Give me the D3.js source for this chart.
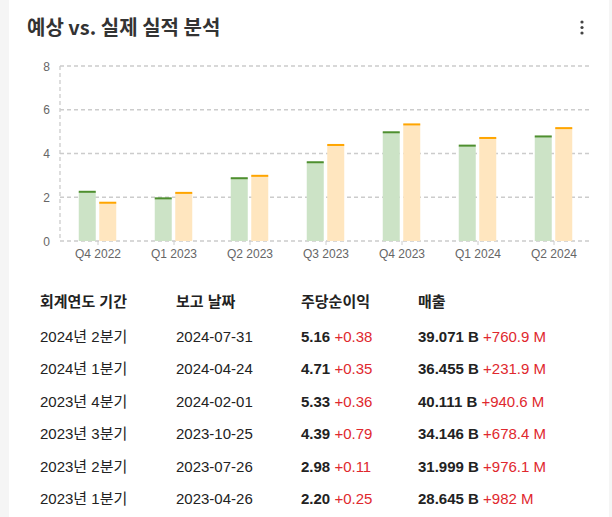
<!DOCTYPE html>
<html><head><meta charset="utf-8">
<script src="https://cdn.jsdelivr.net/npm/d3@7"></script>
<style>
html,body{margin:0;padding:0;background:#f5f5f5;}
svg{display:block;}
</style></head>
<body>
<svg id="c" width="612" height="517"></svg>
<script>
const title = "예상 vs. 실제 실적 분석";
const categories = ["Q4 2022","Q1 2023","Q2 2023","Q3 2023","Q4 2023","Q1 2024","Q2 2024"];
const estimates = [2.25, 1.95, 2.87, 3.60, 4.97, 4.36, 4.78];
const actuals   = [1.75, 2.20, 2.98, 4.39, 5.33, 4.71, 5.16];
const yTicks = [0, 2, 4, 6, 8];

const headers = ["회계연도 기간", "보고 날짜", "주당순이익", "매출"];
const periods = ["2024년 2분기","2024년 1분기","2023년 4분기","2023년 3분기","2023년 2분기","2023년 1분기"];
const reportDates = ["2024-07-31","2024-04-24","2024-02-01","2023-10-25","2023-07-26","2023-04-26"];
const epsValues = ["5.16","4.71","5.33","4.39","2.98","2.20"];
const epsSurprise = ["+0.38","+0.35","+0.36","+0.79","+0.11","+0.25"];
const revenueValues = ["39.071 B","36.455 B","40.111 B","34.146 B","31.999 B","28.645 B"];
const revenueSurprise = ["+760.9 M","+231.9 M","+940.6 M","+678.4 M","+976.1 M","+982 M"];

const svg = d3.select("#c");
// card
svg.append("rect").attr("x", 9).attr("y", 0).attr("width", 600).attr("height", 517).attr("fill", "#fff");

svg.append("text").attr("x", 27).attr("y", 35)
  .attr("font-family", "'Noto Sans CJK KR', 'Noto Sans', sans-serif")
  .attr("font-weight", "bold").attr("font-size", 20).attr("fill", "#333").text(title);

// kebab
[22, 27.5, 33].forEach(cy => svg.append("circle").attr("cx", 582).attr("cy", cy).attr("r", 1.6).attr("fill", "#444"));

const x = d3.scaleBand().domain(categories).range([60, 592]);
const y = d3.scaleLinear().domain([0, 8]).range([241, 66]);

const g = svg.append("g");
// grid
g.selectAll("line.h").data(yTicks).join("line")
  .attr("x1", 60).attr("x2", 592).attr("y1", d => y(d)).attr("y2", d => y(d))
  .attr("stroke", "#ccc").attr("stroke-width", 1.3).attr("stroke-dasharray", "4,3");
g.append("line").attr("x1", 60).attr("x2", 60).attr("y1", y(8)).attr("y2", y(0))
  .attr("stroke", "#ccc").attr("stroke-width", 1.3).attr("stroke-dasharray", "4,3");

// y labels
g.selectAll("text.yl").data(yTicks).join("text")
  .attr("x", 50).attr("y", d => y(d) + 4.5).attr("text-anchor", "end")
  .attr("font-family", "'Liberation Sans', Arial, sans-serif").attr("font-size", 12).attr("fill", "#666")
  .text(d => d);

// x axis ticks & labels
const xa = svg.append("g").attr("transform", `translate(0,${y(0)})`)
  .call(d3.axisBottom(x).tickSize(4).tickSizeOuter(0));
xa.select(".domain").remove();
xa.selectAll(".tick line").attr("stroke", "#ccc");
xa.selectAll(".tick text").attr("font-family", "'Liberation Sans', Arial, sans-serif")
  .attr("font-size", 12).attr("fill", "#666").attr("dy", "0.85em");

const barW = 17, gap = 3.5;
const cx = d => x(d) + x.bandwidth() / 2 - 0.5;
// estimate bars
g.selectAll("rect.est").data(categories).join("rect")
  .attr("x", (d) => cx(d) - gap / 2 - barW).attr("width", barW)
  .attr("y", (d, i) => y(estimates[i])).attr("height", (d, i) => y(0) - y(estimates[i]))
  .attr("fill", "#cce3c6");
g.selectAll("rect.estc").data(categories).join("rect")
  .attr("x", (d) => cx(d) - gap / 2 - barW).attr("width", barW)
  .attr("y", (d, i) => y(estimates[i]) - 1).attr("height", 2)
  .attr("fill", "#4e8f2f");
// actual bars
g.selectAll("rect.act").data(categories).join("rect")
  .attr("x", (d) => cx(d) + gap / 2).attr("width", barW)
  .attr("y", (d, i) => y(actuals[i])).attr("height", (d, i) => y(0) - y(actuals[i]))
  .attr("fill", "#ffe6bf");
g.selectAll("rect.actc").data(categories).join("rect")
  .attr("x", (d) => cx(d) + gap / 2).attr("width", barW)
  .attr("y", (d, i) => y(actuals[i]) - 1).attr("height", 2)
  .attr("fill", "#ffa500");

// table
const colX = [40, 176, 301, 418];
const tf = "'Liberation Sans', Arial, 'Noto Sans CJK KR', sans-serif";
const hdr = svg.append("g");
headers.forEach((h, i) => hdr.append("text").attr("x", colX[i]).attr("y", 307)
  .attr("font-family", tf).attr("font-weight", "bold").attr("font-size", 15).attr("fill", "#222").text(h));

const rowY = d3.scaleLinear().domain([0, 5]).range([341.5, 504]);
periods.forEach((p, i) => {
  const yy = rowY(i);
  svg.append("text").attr("x", colX[0]).attr("y", yy).attr("font-family", tf).attr("font-size", 15).attr("fill", "#222").text(p);
  svg.append("text").attr("x", colX[1]).attr("y", yy).attr("font-family", tf).attr("font-size", 15).attr("fill", "#222").text(reportDates[i]);
  const t1 = svg.append("text").attr("x", colX[2]).attr("y", yy).attr("font-family", tf).attr("font-size", 15);
  t1.append("tspan").attr("font-weight", "bold").attr("fill", "#222").text(epsValues[i] + " ");
  t1.append("tspan").attr("fill", "#e0282e").text(epsSurprise[i]);
  const t2 = svg.append("text").attr("x", colX[3]).attr("y", yy).attr("font-family", tf).attr("font-size", 15);
  t2.append("tspan").attr("font-weight", "bold").attr("fill", "#222").text(revenueValues[i] + " ");
  t2.append("tspan").attr("fill", "#e0282e").text(revenueSurprise[i]);
});
</script>
</body></html>
